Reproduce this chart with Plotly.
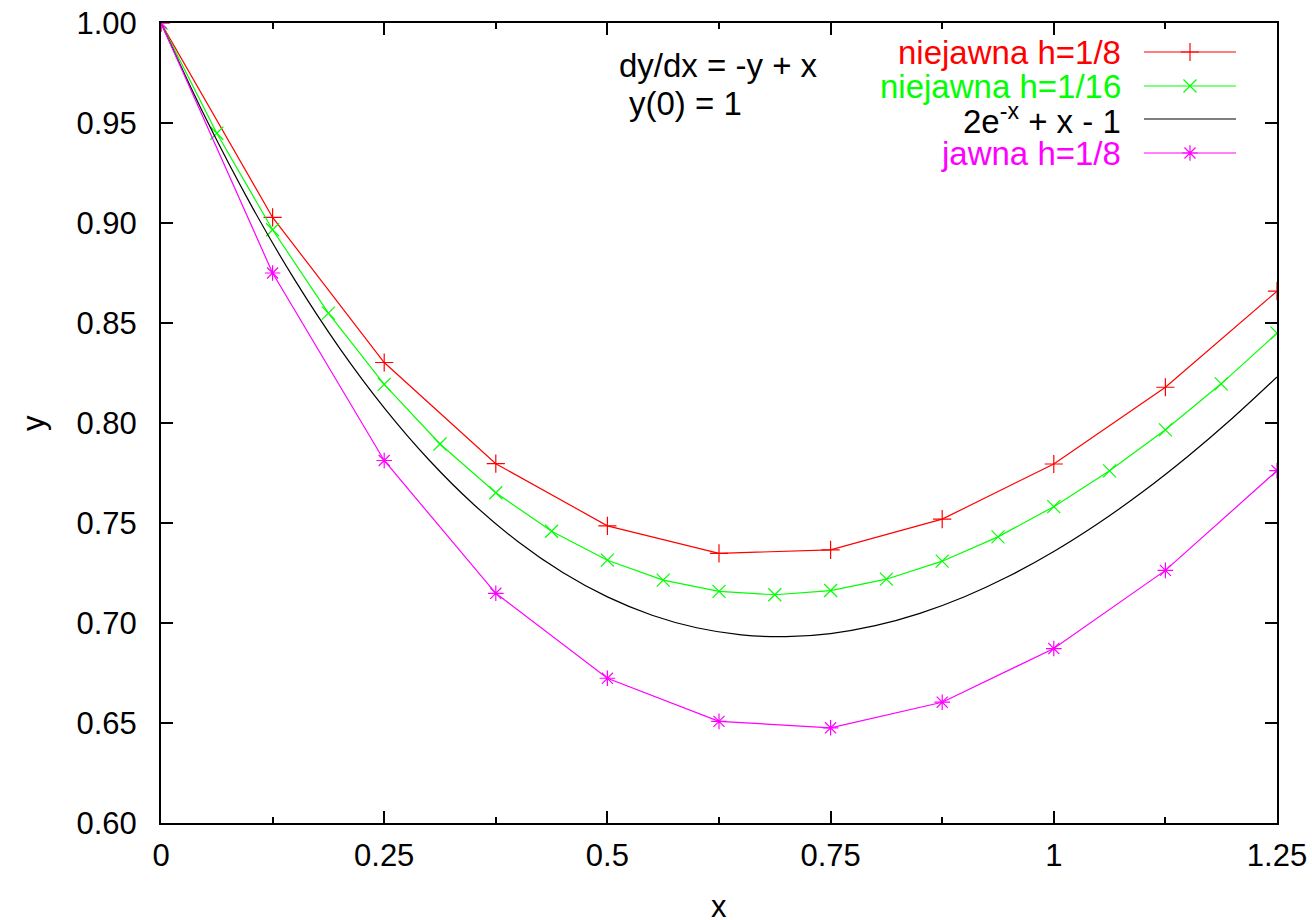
import plotly.graph_objects as go

# --- data ---
x_h8 = [0, 0.125, 0.25, 0.375, 0.5, 0.625, 0.75, 0.875, 1.0, 1.125, 1.25]
y_impl_h8 = [1.0, 0.902778, 0.830247, 0.779664, 0.748590, 0.734858,
             0.736541, 0.751925, 0.779489, 0.817879, 0.865892]

x_h16 = [0, 0.0625, 0.125, 0.1875, 0.25, 0.3125, 0.375, 0.4375, 0.5, 0.5625,
         0.625, 0.6875, 0.75, 0.8125, 0.875, 0.9375, 1.0, 1.0625, 1.125,
         1.1875, 1.25]
y_impl_h16 = [1.0, 0.944853, 0.896626, 0.854913, 0.819330, 0.789516, 0.765133,
              0.745861, 0.731399, 0.721464, 0.715790, 0.714126, 0.716236,
              0.721898, 0.730904, 0.743057, 0.758171, 0.776073, 0.796598,
              0.819592, 0.844910]

x_exact = [0, 0.05, 0.1, 0.15, 0.2, 0.25, 0.3, 0.35, 0.4, 0.45, 0.5, 0.55,
           0.6, 0.65, 0.7, 0.75, 0.8, 0.85, 0.9, 0.95, 1.0, 1.05, 1.1, 1.15,
           1.2, 1.25]
y_exact = [1.0, 0.952459, 0.909675, 0.871416, 0.837462, 0.807602, 0.781636,
           0.759376, 0.740640, 0.725256, 0.713061, 0.703900, 0.697623,
           0.694092, 0.693171, 0.694733, 0.698658, 0.704829, 0.713139,
           0.723482, 0.735759, 0.749876, 0.765742, 0.783274, 0.802388,
           0.823010]

y_expl_h8 = [1.0, 0.875, 0.78125, 0.714844, 0.672363, 0.650818, 0.647591,
             0.660392, 0.687218, 0.726316, 0.776151]

labels = ["niejawna h=1/8", "niejawna h=1/16", "2e<sup>-x</sup> + x - 1", "jawna h=1/8"]
colors = ["#ff0000", "#00ff00", "#000000", "#ff00ff"]
symbols = ["cross-thin-open", "x-thin-open", None, "asterisk-open"]
x_ticks = [0, 0.25, 0.5, 0.75, 1.0, 1.25]
x_tick_text = ["0", "0.25", "0.5", "0.75", "1", "1.25"]
y_ticks = [0.60, 0.65, 0.70, 0.75, 0.80, 0.85, 0.90, 0.95, 1.00]

FONT = "Liberation Sans, Arial, sans-serif"
W, H = 1312, 920
L, R, T, B = 161, 35, 23, 97
PW, PH = W - L - R, H - T - B

def px_x(p):
    return (p - L) / PW

def px_y(p):
    return (H - B - p) / PH

fig = go.Figure()

series = [
    (x_h8, y_impl_h8),
    (x_h16, y_impl_h16),
    (x_exact, y_exact),
    (x_h8, y_expl_h8),
]
for i, (xs, ys) in enumerate(series):
    if symbols[i] is None:
        fig.add_trace(go.Scatter(x=xs, y=ys, mode="lines", line_shape="spline",
                                 line=dict(color=colors[i], width=1.2),
                                 showlegend=False))
    else:
        fig.add_trace(go.Scatter(x=xs, y=ys, mode="lines+markers",
                                 line=dict(color=colors[i], width=1.2),
                                 marker=dict(symbol=symbols[i], size=13,
                                             color=colors[i],
                                             line=dict(color=colors[i], width=1.2)),
                                 showlegend=False))

# legend drawn in an overlay [0,1] axis system
leg_rows_px = [52, 86, 119, 153]
lx0, lx1, lxm, ltxt = px_x(1144), px_x(1236), px_x(1190), px_x(1123)
for i, ry in enumerate(leg_rows_px):
    yy = px_y(ry)
    fig.add_trace(go.Scatter(x=[lx0, lx1], y=[yy, yy], mode="lines",
                             line=dict(color=colors[i], width=1.2),
                             xaxis="x2", yaxis="y2", showlegend=False))
    if symbols[i] is not None:
        fig.add_trace(go.Scatter(x=[lxm], y=[yy], mode="markers",
                                 marker=dict(symbol=symbols[i], size=13,
                                             color=colors[i],
                                             line=dict(color=colors[i], width=1.2)),
                                 xaxis="x2", yaxis="y2", showlegend=False))
    fig.add_annotation(x=ltxt, y=yy, xref="x2", yref="y2", text=labels[i],
                       showarrow=False, xanchor="right", yanchor="middle",
                       font=dict(family=FONT, size=33, color=colors[i]))

fig.add_annotation(x=px_x(617), y=px_y(66), xref="paper", yref="paper",
                   text="dy/dx = -y + x", showarrow=False, xanchor="left",
                   yanchor="middle", font=dict(family=FONT, size=33, color="black"))
fig.add_annotation(x=px_x(627), y=px_y(104), xref="paper", yref="paper",
                   text="y(0) = 1", showarrow=False, xanchor="left",
                   yanchor="middle", font=dict(family=FONT, size=33, color="black"))

fig.add_annotation(x=0.5, y=px_y(906), xref="paper", yref="paper", text="x",
                   showarrow=False, xanchor="center", yanchor="middle",
                   font=dict(family=FONT, size=31, color="black"))
fig.add_annotation(x=px_x(33), y=0.5, xref="paper", yref="paper", text="y",
                   textangle=-90, showarrow=False, xanchor="center",
                   yanchor="middle", font=dict(family=FONT, size=31, color="black"))

axis_common = dict(showline=True, linecolor="black", linewidth=2, mirror="allticks",
                   ticks="inside", ticklen=12, tickwidth=2, tickcolor="black",
                   showgrid=False, zeroline=False, automargin=False,
                   tickfont=dict(family=FONT, size=31, color="black"))

fig.update_layout(
    width=W, height=H,
    margin=dict(l=L, r=R, t=T, b=B, pad=0, autoexpand=False),
    paper_bgcolor="white", plot_bgcolor="white",
    showlegend=False,
    xaxis=dict(range=[0, 1.25], tickvals=x_ticks, ticktext=x_tick_text,
               ticklabelstandoff=4,
               minor=dict(ticks="inside", ticklen=6, tickwidth=2, tickcolor="black",
                          dtick=0.125, tick0=0, showgrid=False),
               **axis_common),
    yaxis=dict(range=[0.60, 1.00], tickvals=y_ticks, tickformat=".2f",
               ticklabelstandoff=16, **axis_common),
    xaxis2=dict(range=[0, 1], overlaying="x", visible=False, automargin=False),
    yaxis2=dict(range=[0, 1], overlaying="y", visible=False, automargin=False),
)

fig.write_html("out.html", config={"displayModeBar": False},
               post_script="document.body.style.margin='0';document.body.style.overflow='hidden';")
